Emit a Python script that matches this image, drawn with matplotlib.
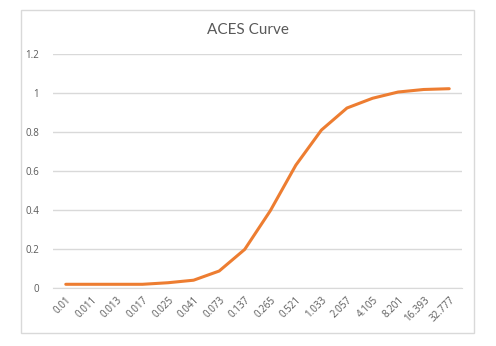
import matplotlib.pyplot as plt
from matplotlib.patches import Rectangle

# input exposure values (category labels) and ACES tone-mapped output
exposure = ['0.01', '0.011', '0.013', '0.017', '0.025', '0.041', '0.073', '0.137',
            '0.265', '0.521', '1.033', '2.057', '4.105', '8.201', '16.393', '32.777']
aces = [0.019, 0.019, 0.019, 0.019, 0.027, 0.040, 0.087, 0.198,
        0.396, 0.630, 0.810, 0.923, 0.973, 1.005, 1.018, 1.022]

plt.rcParams['font.family'] = ['Open Sans', 'DejaVu Sans']
text_color = '#595959'
grid_color = '#D9D9D9'

fig = plt.figure(figsize=(4.96, 3.46), dpi=100)
W, H = 496, 346

# outer chart border like an Excel chart area
fig.patches.append(Rectangle((21 / W, 1 - 333 / H), (474 - 21) / W, (333 - 10) / H,
                             transform=fig.transFigure, fill=False,
                             edgecolor=grid_color, linewidth=1))

ax = fig.add_axes([53 / W, 1 - 288 / H, (462 - 53) / W, (288 - 54) / H])
x = range(len(exposure))
ax.plot(x, aces, color='#ED7D31', linewidth=2.2, solid_capstyle='round')

ax.set_xlim(-0.5, len(exposure) - 0.5)
ax.set_ylim(0, 1.2)
ax.set_yticks([0, 0.2, 0.4, 0.6, 0.8, 1.0, 1.2])
ax.set_yticklabels(['0', '0.2', '0.4', '0.6', '0.8', '1', '1.2'])
ax.set_xticks(list(x))
ax.set_xticklabels(exposure, rotation=45, ha='right', rotation_mode='anchor')

ax.grid(axis='y', color=grid_color, linewidth=1)
ax.set_axisbelow(True)
for side in ['top', 'right', 'left']:
    ax.spines[side].set_visible(False)
ax.spines['bottom'].set_color(grid_color)
ax.tick_params(axis='both', length=0, labelsize=7, colors=text_color)
ax.tick_params(axis='y', pad=10)
ax.tick_params(axis='x', pad=5)

fig.text(248 / W, 1 - 30 / H, 'ACES Curve', ha='center', va='center',
         fontsize=11, color=text_color, family=['Lato', 'DejaVu Sans'])

plt.savefig('out.png', dpi=100)
